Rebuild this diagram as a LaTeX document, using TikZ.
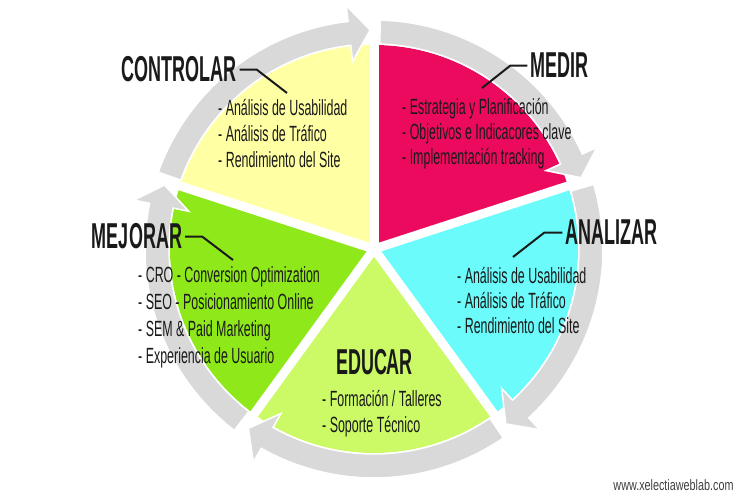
\documentclass[tikz,border=0pt]{standalone}
\usepackage{fontspec}
\setmainfont{Liberation Sans}
\newfontfamily\titlefont[FakeStretch=0.50]{Liberation Sans}
\newfontfamily\bodyfont[FakeStretch=0.565]{Liberation Sans}
\newfontfamily\urlfont[FakeStretch=0.72]{Liberation Sans}
\definecolor{cyellow}{HTML}{FFFFA3}
\definecolor{cred}{HTML}{EC0A5F}
\definecolor{ccyan}{HTML}{6BFBFB}
\definecolor{clime}{HTML}{CCFA66}
\definecolor{cgreen}{HTML}{8FE81A}
\definecolor{ringgray}{HTML}{D9D9D9}
\definecolor{ink}{HTML}{1A1A1A}
\tikzset{
  title/.style={inner sep=0pt, anchor=base, text=ink, font=\titlefont\bfseries\fontsize{36}{40}\selectfont},
  item/.style={inner sep=0pt, anchor=base west, text=ink, font=\bodyfont\fontsize{22}{26}\selectfont},
  leader/.style={draw=ink, line width=2pt, line join=miter},
  ringarrow/.style={fill=ringgray, draw=white, line width=1.5pt, line join=miter}
}
\begin{document}
\begin{tikzpicture}[x=1pt,y=1pt]
\useasboundingbox (0,0) rectangle (750,500);
\fill[white] (0,0) rectangle (750,500);
\begin{scope}[shift={(374,251)}]
  % coloured sectors
  \fill[cyellow] (0,0) -- (90:204) arc[start angle=90,end angle=162,radius=204] -- cycle;
  \fill[cred] (0,0) -- (18:204) arc[start angle=18,end angle=90,radius=204] -- cycle;
  \fill[ccyan] (0,0) -- (-54:204) arc[start angle=-54,end angle=18,radius=204] -- cycle;
  \fill[clime] (0,0) -- (-126:204) arc[start angle=-126,end angle=-54,radius=204] -- cycle;
  \fill[cgreen] (0,0) -- (162:204) arc[start angle=162,end angle=234,radius=204] -- cycle;
  % white gaps
  \foreach \a in {90,18,-54,-126,162}
    \draw[white, line width=9pt] (0,0) -- (\a:214);
  % grey ring arrows (clockwise)
  \foreach \a in {90,18,-54,-126,162} {
    \pgfmathsetmacro\s{\a+72-1.6}
    \pgfmathsetmacro\b{\a+6.5}
    \pgfmathsetmacro\t{\a+1}
    \filldraw[ringarrow] (\s:229) arc[start angle=\s,end angle=\b,radius=229]
      -- (\b:245) -- (\t:219) -- (\b:189) -- (\b:205)
      arc[start angle=\b,end angle=\s,radius=205] -- cycle;
  }
\end{scope}

% titles
\node[title] (ctl) at (179,418) {CONTROLAR};
\node[title] (med) at (559.5,422) {MEDIR};
\node[title] (ana) at (611.5,255) {ANALIZAR};
\node[title] (mej) at (137,251) {MEJORAR};
\node[title] (edu) at (374.5,125) {EDUCAR};

% leader lines
\coordinate (ctlend) at (287,407);
\coordinate (medend) at (482,412);
\coordinate (anaend) at (513,243);
\coordinate (mejend) at (233,240);
\draw[leader] ([xshift=3pt]ctl.east) -- ++(17,0) -- (ctlend);
\draw[leader] ([xshift=-3pt]med.west) -- ++(-17,0) -- (medend);
\draw[leader] ([xshift=-3pt]ana.west) -- ++(-18,0) -- (anaend);
\draw[leader] ([xshift=3pt]mej.east) -- ++(17,0) -- (mejend);

% items
\node[item] (c1) at (218,384) {- Análisis de Usabilidad};
\node[item] (c2) at (218,358) {- Análisis de Tráfico};
\node[item] (c3) at (218,332) {- Rendimiento del Site};

\node[item] (m1) at (402,385) {- Estrategia y Planificación};
\node[item] (m2) at (402,360) {- Objetivos e Indicacores clave};
\node[item] (m3) at (402,335) {- Implementación tracking};

\node[item] (a1) at (457,216) {- Análisis de Usabilidad};
\node[item] (a2) at (457,191) {- Análisis de Tráfico};
\node[item] (a3) at (457,166) {- Rendimiento del Site};

\node[item] (j1) at (138,217) {- CRO - Conversion Optimization};
\node[item] (j2) at (138,190) {- SEO - Posicionamiento Online};
\node[item] (j3) at (138,163) {- SEM \& Paid Marketing};
\node[item] (j4) at (138,136) {- Experiencia de Usuario};

\node[item] (e1) at (322,93) {- Formación / Talleres};
\node[item] (e2) at (322,67) {- Soporte Técnico};

% url
\node[inner sep=0pt, anchor=base, text=black!75, font=\urlfont\fontsize{15}{18}\selectfont] (url) at (673.5,9) {www.xelectiaweblab.com};
\end{tikzpicture}
\end{document}
